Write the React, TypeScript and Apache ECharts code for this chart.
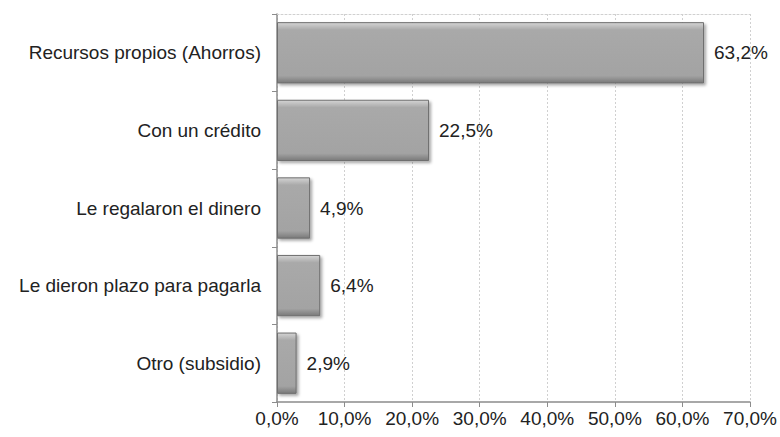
import React, { useEffect, useRef } from "react";
import * as echarts from "echarts";

const categories = [
  "Recursos propios (Ahorros)",
  "Con un crédito",
  "Le regalaron el dinero",
  "Le dieron plazo para pagarla",
  "Otro (subsidio)",
];
const values = [63.2, 22.5, 4.9, 6.4, 2.9];
const xTicks = [0, 10, 20, 30, 40, 50, 60, 70];

const fmt = (v: number) => v.toFixed(1).replace(".", ",") + "%";

export default function App() {
  const ref = useRef<HTMLDivElement>(null);
  useEffect(() => {
    if (!ref.current) return;
    const chart = echarts.init(ref.current, undefined, { renderer: "svg" });
    const font = "'Liberation Sans', Arial, sans-serif";
    chart.setOption({
      animation: false,
      backgroundColor: "#ffffff",
      grid: { left: 277, right: 30, top: 14, bottom: 35, containLabel: false },
      xAxis: [
        {
          type: "value",
          min: xTicks[0],
          max: xTicks[xTicks.length - 1],
          interval: 10,
          axisLine: { show: true, lineStyle: { color: "#8c8c8c", width: 1.5 } },
          axisTick: { show: true, length: 5, lineStyle: { color: "#8c8c8c" } },
          axisLabel: {
            formatter: (v: number) => fmt(v),
            color: "#222",
            fontFamily: font,
            fontSize: 19,
            margin: 7,
          },
          splitLine: { show: true, lineStyle: { color: "#d0d0d0", type: [2, 2], width: 1 } },
        },
        {
          type: "value",
          position: "top",
          min: 0,
          max: 70,
          interval: 10,
          axisLine: { show: true, lineStyle: { color: "#d0d0d0", type: [2, 2] } },
          axisTick: { show: false },
          axisLabel: { show: false },
          splitLine: { show: false },
        },
      ],
      yAxis: {
        type: "category",
        data: categories,
        inverse: true,
        axisLine: { show: true, lineStyle: { color: "#8c8c8c", width: 1.5 } },
        axisTick: { show: true, length: 5, inside: false, lineStyle: { color: "#8c8c8c" } },
        axisLabel: { color: "#222", fontFamily: font, fontSize: 19, margin: 16 },
      },
      series: [
        {
          type: "bar",
          data: values,
          barCategoryGap: "21%",
          itemStyle: {
            color: new echarts.graphic.LinearGradient(0, 0, 0, 1, [
              { offset: 0, color: "#d4d4d4" },
              { offset: 0.12, color: "#a9a9a9" },
              { offset: 0.88, color: "#a3a3a3" },
              { offset: 1, color: "#7a7a7a" },
            ]),
            borderColor: "#6e6e6e",
            borderWidth: 1,
            shadowColor: "rgba(0,0,0,0.35)",
            shadowBlur: 3,
            shadowOffsetX: 2,
            shadowOffsetY: 2,
          },
          label: {
            show: true,
            position: "right",
            distance: 10,
            formatter: (p: any) => fmt(p.value),
            color: "#222",
            fontFamily: font,
            fontSize: 19,
          },
        },
      ],
    });
    return () => chart.dispose();
  }, []);
  return <div ref={ref} style={{ width: 780, height: 437, position: "absolute", left: 0, top: 0 }} />;
}
